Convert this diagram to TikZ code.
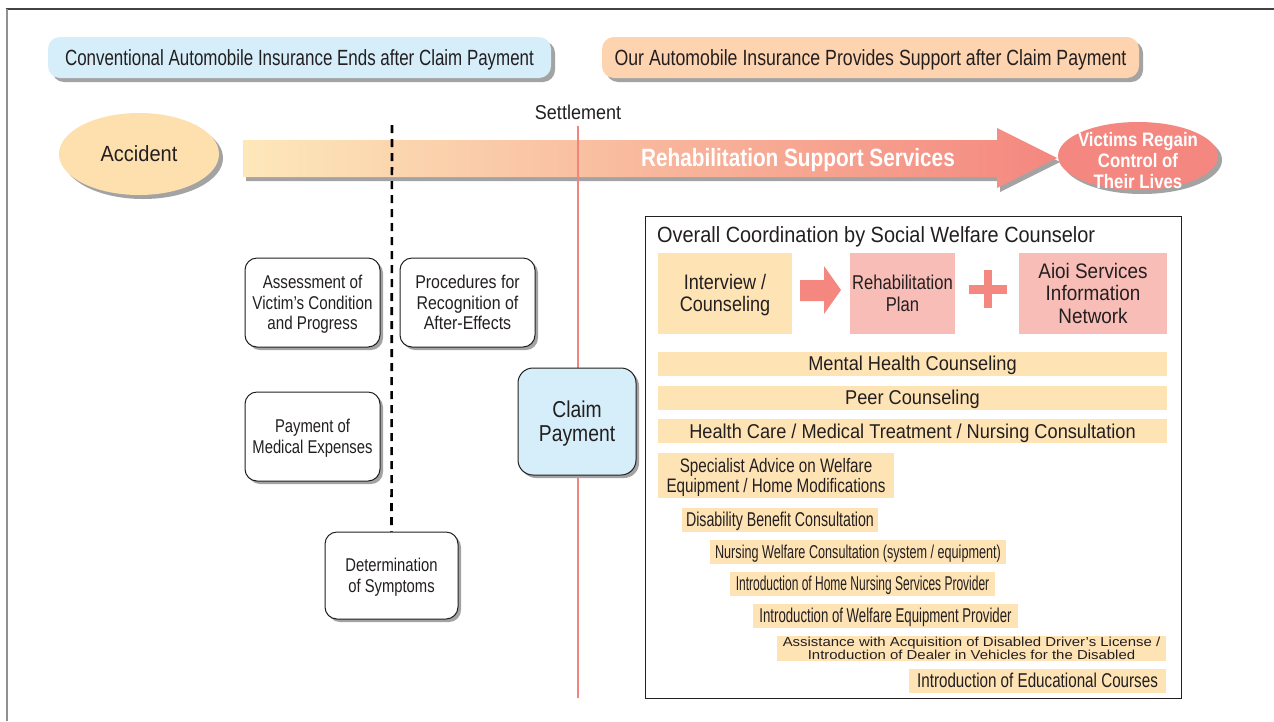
\documentclass[tikz,border=0pt]{standalone}
\usepackage{fontspec}
\setmainfont{Liberation Sans}
\usepackage{graphicx}
\usetikzlibrary{shapes.geometric,shadows}
\definecolor{ink}{HTML}{231F20}
\definecolor{hblue}{HTML}{D5EEF9}
\definecolor{hpeach}{HTML}{FDD3B0}
\definecolor{cream}{HTML}{FEE3B5}
\definecolor{accfill}{HTML}{FDE0AE}
\definecolor{pinkbox}{HTML}{F8BDB6}
\definecolor{salmon}{HTML}{F4877F}
\definecolor{bandL}{HTML}{FDE8BA}
\definecolor{pinkline}{HTML}{F08580}
\definecolor{shadegray}{HTML}{A3A3A3}
\definecolor{framegray}{HTML}{909090}
\newcommand\sq[2]{\raisebox{-0.14em}[\height][\depth]{\scalebox{#1}[1]{\begin{tabular}{@{}c@{}}#2\end{tabular}}}}
\newcommand\fs[2]{\fontsize{#1}{#2}\selectfont}
\tikzset{
  hdr/.style={rounded corners=12pt, minimum height=41pt, inner sep=0pt, text=ink,
    font=\fs{22}{24}, drop shadow={shadow xshift=4pt, shadow yshift=-4pt, fill=shadegray, opacity=1}},
  lbox/.style={draw=ink, line width=1pt, fill=white, rounded corners=12pt,
    minimum width=135pt, minimum height=89pt, inner sep=0pt, text=ink, font=\fs{18.5}{20.7},
    drop shadow={shadow xshift=3pt, shadow yshift=-3pt, fill=shadegray, opacity=1}},
  tbox/.style={minimum height=81pt, inner sep=0pt, text=ink, font=\fs{21}{22}},
  bar/.style={fill=cream, inner sep=0pt, minimum height=24pt, text=ink, font=\fs{20}{22}},
  dashline/.style={line width=2.6pt, dash pattern=on 8pt off 6pt, black},
  settleline/.style={line width=2pt, pinkline},
}
\begin{document}
\begin{tikzpicture}[x=1pt,y=-1pt]
\useasboundingbox (0,0) rectangle (1274,721);
\fill[white] (0,0) rectangle (1274,721);
% frame
\draw[ink!85, line width=1.3pt] (6,9) -- (1274,9);
\draw[framegray, line width=2pt] (7,9) -- (7,721);

% headers
\node[hdr, fill=hblue, minimum width=503pt] (hleft) at (299.5,57.5)
  {\sq{0.77}{Conventional Automobile Insurance Ends after Claim Payment}};
\node[hdr, fill=hpeach, minimum width=537pt] (hright) at (870.5,57.5)
  {\sq{0.805}{Our Automobile Insurance Provides Support after Claim Payment}};

% band arrow
\begin{scope}[shift={(3,4)}]
\fill[shadegray] (243,140) -- (997,140) -- (997,128) -- (1057,158) -- (997,188) -- (997,177) -- (243,177) -- cycle;
\end{scope}
\shade[left color=bandL, right color=salmon] (243,140) -- (997,140) -- (997,128) -- (1057,158) -- (997,188) -- (997,177) -- (243,177) -- cycle;
\node[text=white, font=\bfseries\fs{25}{26}, inner sep=0pt] (band) at (798,158)
  {\sq{0.83}{Rehabilitation Support Services}};

% accident and victims
\node[ellipse, fill=accfill, minimum width=160pt, minimum height=82pt, inner sep=0pt, text=ink,
  font=\fs{22}{24}, drop shadow={shadow xshift=4pt, shadow yshift=-4pt, fill=shadegray, opacity=1}]
  (accident) at (139,154) {\sq{0.91}{Accident}};
\node[ellipse, fill=salmon, minimum width=160pt, minimum height=68pt, inner sep=0pt,
  drop shadow={shadow xshift=4pt, shadow yshift=-4pt, fill=shadegray, opacity=1}]
  (victims) at (1138,156) {};
\node[text=white, font=\bfseries\fs{19.5}{21}, inner sep=0pt] (victimstext) at (1138,161)
  {\sq{0.86}{Victims Regain\\Control of\\Their Lives}};

% settlement
\node[text=ink, font=\fs{20}{22}, inner sep=0pt] (settle) at (578,112) {\sq{0.9}{Settlement}};
\coordinate (settletop) at (578,126);
\coordinate (settlebot) at (578,698);
\draw[settleline] (settletop) -- (settlebot);

% left boxes
\node[lbox] (assess) at (312.5,302.5) {\sq{0.82}{Assessment of\\Victim’s Condition\\and Progress}};
\node[lbox] (proc) at (467.5,302.5) {\sq{0.86}{Procedures for\\Recognition of\\After-Effects}};
\node[lbox] (medpay) at (312.5,436.5) {\sq{0.8}{Payment of\\Medical Expenses}};
\node[lbox, minimum width=133pt, minimum height=87pt] (determ) at (391.5,575.5) {\sq{0.8}{Determination\\of Symptoms}};
\coordinate (dashtop) at (392,125);
\draw[dashline] (dashtop) -- (determ.north);
\node[lbox, fill=hblue, minimum width=118pt, minimum height=107pt, rounded corners=15pt,
  font=\fs{23}{24}, drop shadow={shadow xshift=2pt, shadow yshift=-2pt, fill=shadegray, opacity=1}]
  (claim) at (577,421.5) {\sq{0.84}{Claim\\Payment}};

% right panel
\node[draw=ink, line width=1pt, minimum width=536pt, minimum height=482pt, inner sep=0pt] (panel) at (913,457) {};
\node[anchor=west, text=ink, font=\fs{22}{24}, inner sep=0pt] (title) at (657,235)
  {\sq{0.905}{Overall Coordination by Social Welfare Counselor}};

\node[tbox, fill=cream, minimum width=134pt] (interview) at (725,293.5) {\sq{0.86}{Interview /\\Counseling}};
\node[tbox, fill=pinkbox, minimum width=105pt, font=\fs{20}{21.5}] (rehab) at (902.5,293.5) {\sq{0.83}{Rehabilitation\\Plan}};
\node[tbox, fill=pinkbox, minimum width=148pt, font=\fs{21}{22.5}] (aioi) at (1093,293.5) {\sq{0.9}{Aioi Services\\Information\\Network}};
\fill[salmon] (800,280) -- (824,280) -- (824,266) -- (841,290) -- (824,314) -- (824,301) -- (800,301) -- cycle;
\fill[salmon] (969,284.5) rectangle (1007,293.5);
\fill[salmon] (984,270) rectangle (992,308);

\node[bar, minimum width=509pt] (mental) at (912.5,363.5) {\sq{0.91}{Mental Health Counseling}};
\node[bar, minimum width=509pt] (peer) at (912.5,397.5) {\sq{0.91}{Peer Counseling}};
\node[bar, minimum width=509pt] (health) at (912.5,431) {\sq{0.91}{Health Care / Medical Treatment / Nursing Consultation}};
\node[bar, minimum width=236pt, minimum height=45pt, font=\fs{19.5}{18.5}] (special) at (776,475.5)
  {\sq{0.78}{Specialist Advice on Welfare\\Equipment / Home Modifications}};
\node[bar, minimum width=196pt] (disab) at (780,519.5) {\sq{0.71}{Disability Benefit Consultation}};
\node[bar, minimum width=296pt, font=\fs{18.6}{20}] (nursing) at (858,551.5) {\sq{0.68}{Nursing Welfare Consultation (system / equipment)}};
\node[bar, minimum width=265pt] (homenurs) at (862.5,583.5) {\sq{0.6}{Introduction of Home Nursing Services Provider}};
\node[bar, minimum width=265pt] (welfeq) at (885.5,615.5) {\sq{0.66}{Introduction of Welfare Equipment Provider}};
\node[bar, minimum width=389pt, minimum height=25pt, font=\fs{13}{11.7}] (assist) at (971.5,648.5)
  {\sq{1.15}{Assistance with Acquisition of Disabled Driver’s License /\\Introduction of Dealer in Vehicles for the Disabled}};
\node[bar, minimum width=257pt] (educ) at (1037.5,680.5) {\sq{0.76}{Introduction of Educational Courses}};
\end{tikzpicture}
\end{document}
